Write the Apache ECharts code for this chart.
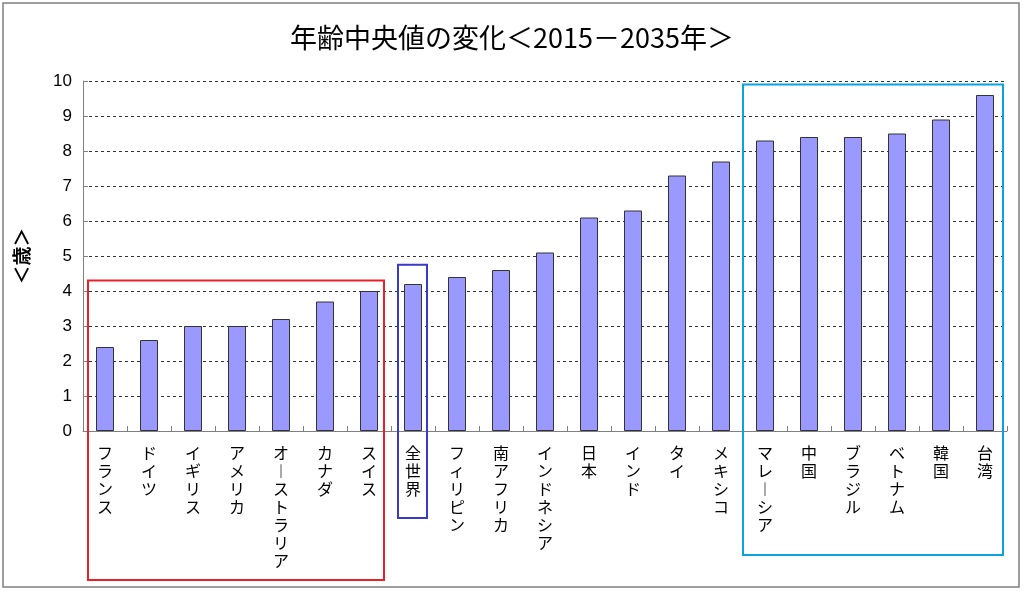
<!DOCTYPE html>
<html>
<head>
<meta charset="utf-8">
<script src="https://cdn.jsdelivr.net/npm/echarts@6/dist/echarts.min.js"></script>
<style>
html,body{margin:0;padding:0;background:#fff;}
#c{width:1024px;height:591px;}
</style>
</head>
<body>
<div id="c"></div>
<script>
const titleText = '年齢中央値の変化＜2015－2035年＞';
const yAxisName = '＜歳＞';
const categories = ['フランス','ドイツ','イギリス','アメリカ','オーストラリア','カナダ','スイス','全世界','フィリピン','南アフリカ','インドネシア','日本','インド','タイ','メキシコ','マレーシア','中国','ブラジル','ベトナム','韓国','台湾'];
const values = [2.4, 2.6, 3.0, 3.0, 3.2, 3.7, 4.0, 4.2, 4.4, 4.6, 5.1, 6.1, 6.3, 7.3, 7.7, 8.3, 8.4, 8.4, 8.5, 8.9, 9.6];
const yTicks = [0,1,2,3,4,5,6,7,8,9,10];

// highlight boxes: category index range + top value
const boxFrom = [0, 7, 15];
const boxTo = [6, 7, 20];
const boxTopValue = [4.3, 4.75, 9.9];

const chart = echarts.init(document.getElementById('c'), null, {renderer:'canvas'});
const jp = '"Noto Sans CJK JP", "Noto Sans", sans-serif';

const option = {
  animation: false,
  backgroundColor: '#fff',
  title: {
    text: titleText,
    left: 'center',
    top: 19,
    textStyle: {fontFamily: jp, fontSize: 27, fontWeight: 'normal', color: '#000'}
  },
  grid: {left: 83, right: 17, top: 81, bottom: 160, containLabel: false},
  xAxis: {
    type: 'category',
    data: categories,
    axisLine: {show: true, lineStyle: {color: '#808080', width: 1}},
    axisTick: {show: true, inside: true, length: 5, alignWithLabel: false, lineStyle: {color: '#808080'}},
    axisLabel: {
      interval: 0,
      margin: 13,
      fontFamily: jp,
      fontSize: 16,
      lineHeight: 18,
      color: '#000',
      verticalAlign: 'top',
      formatter: v => v.split('').map(ch => ch === 'ー' ? '︱' : ch).join('\n')
    }
  },
  yAxis: {
    type: 'value',
    min: 0, max: 10, interval: 1,
    name: yAxisName,
    nameLocation: 'middle',
    nameRotate: 90,
    nameGap: 52,
    nameTextStyle: {fontFamily: jp, fontSize: 19, fontWeight: 'bold', color: '#000'},
    axisLine: {show: true, lineStyle: {color: '#808080', width: 1}},
    axisTick: {show: true, inside: true, length: 5, lineStyle: {color: '#808080'}},
    axisLabel: {
      margin: 11,
      fontFamily: '"Liberation Sans", Arial, sans-serif',
      fontSize: 17,
      color: '#000',
      formatter: v => yTicks.includes(v) ? String(v) : ''
    },
    splitLine: {show: true, lineStyle: {color: '#333', type: [3, 3], width: 1}}
  },
  series: [{
    type: 'bar',
    data: values,
    barWidth: 18,
    itemStyle: {color: '#9999FF', borderColor: '#333', borderWidth: 1}
  }]
};
chart.setOption(option);

function buildGraphics() {
  const boxColors = ['#E8202A', '#3A3AC8', '#09A3E2'];
  const leftOff = [-17, -15, -22];
  const rightOff = [15, 14, 18];
  const bottoms = [580, 518, 555];
  const els = [];
  for (let i = 0; i < boxFrom.length; i++) {
    const pL = chart.convertToPixel({gridIndex: 0}, [boxFrom[i], boxTopValue[i]]);
    const pR = chart.convertToPixel({gridIndex: 0}, [boxTo[i], boxTopValue[i]]);
    const x1 = pL[0] + leftOff[i];
    const x2 = pR[0] + rightOff[i];
    const y1 = pL[1];
    els.push({
      type: 'rect',
      shape: {x: x1, y: y1, width: x2 - x1, height: bottoms[i] - y1},
      style: {fill: 'none', stroke: boxColors[i], lineWidth: 2},
      z: 100
    });
  }
  els.push({
    type: 'rect',
    shape: {x: 3, y: 3, width: 1016, height: 584},
    style: {fill: 'none', stroke: '#808080', lineWidth: 1.5},
    z: 100
  });
  chart.setOption({graphic: els});
}
buildGraphics();
</script>
</body>
</html>
